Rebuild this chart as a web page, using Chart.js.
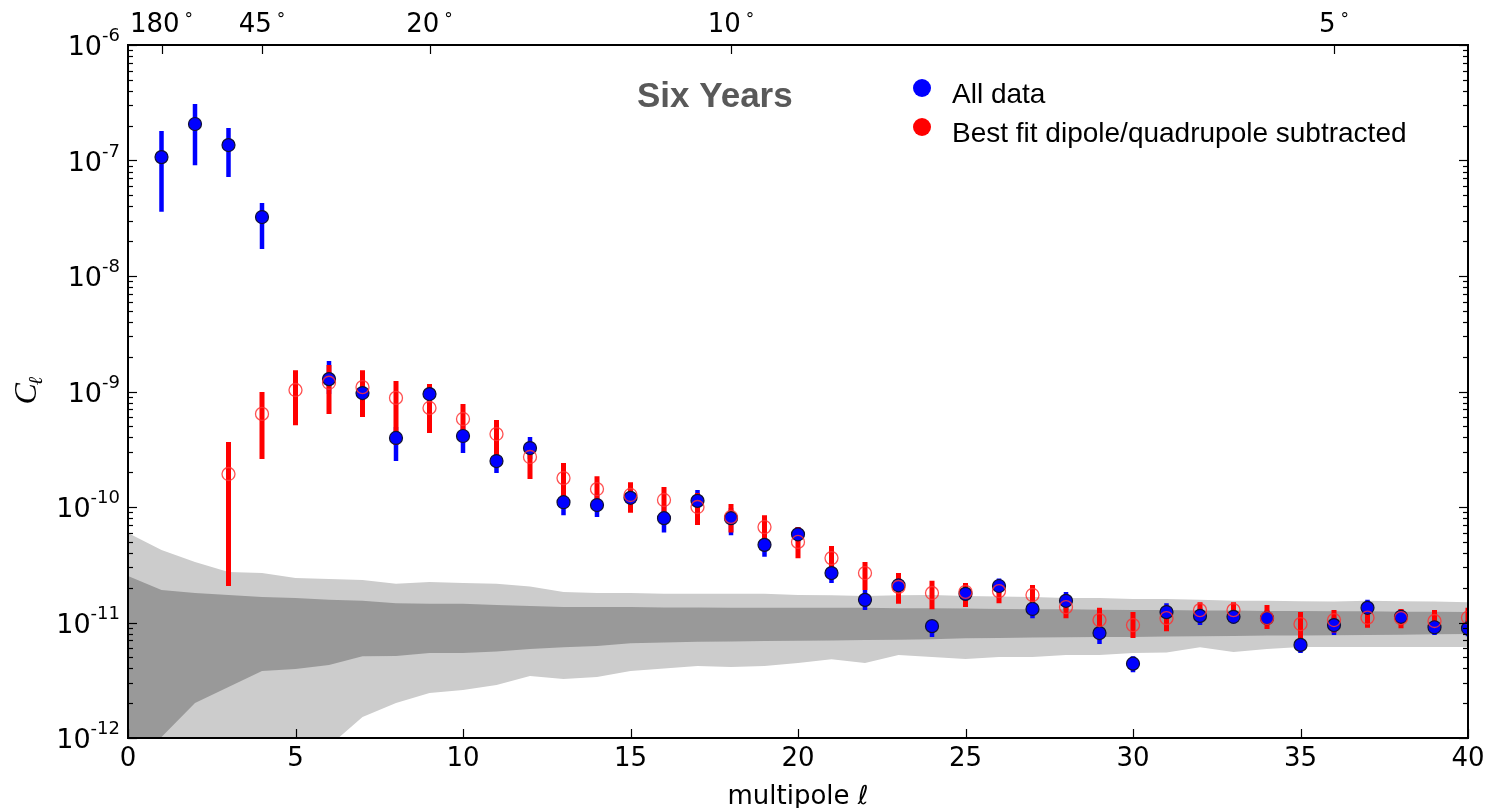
<!DOCTYPE html>
<html>
<head>
<meta charset="utf-8">
<title>Six Years</title>
<script src="https://cdn.jsdelivr.net/npm/chart.js@4.4.1/dist/chart.umd.min.js"></script>
<style>
  html, body { margin: 0; padding: 0; background: #fff; }
  #wrap { width: 1491px; height: 808px; position: relative; }
</style>
</head>
<body>
<div id="wrap"><canvas id="clChart"></canvas></div>
<script>
// simulated spread, one value per multipole 0..40
const bandEll = [0,1,2,3,4,5,6,7,8,9,10,11,12,13,14,15,16,17,18,19,20,
                 21,22,23,24,25,26,27,28,29,30,31,32,33,34,35,36,37,38,39,40];
const lightTop = [5.96e-11, 4.25e-11, 3.34e-11, 2.74e-11, 2.68e-11, 2.43e-11, 2.38e-11, 2.33e-11, 2.16e-11, 2.24e-11,
                  2.2e-11, 2.16e-11, 2.05e-11, 1.84e-11, 1.8e-11, 1.8e-11, 1.77e-11, 1.77e-11, 1.77e-11, 1.77e-11,
                  1.73e-11, 1.72e-11, 1.7e-11, 1.72e-11, 1.73e-11, 1.7e-11, 1.68e-11, 1.66e-11, 1.63e-11, 1.63e-11,
                  1.6e-11, 1.6e-11, 1.57e-11, 1.54e-11, 1.54e-11, 1.53e-11, 1.52e-11, 1.54e-11, 1.53e-11, 1.52e-11, 1.5e-11];
const lightBottom = [1e-13, 2e-13, 3e-13, 4e-13, 5e-13, 6e-13, 8.5e-13, 1.52e-12, 2.01e-12, 2.45e-12,
                     2.6e-12, 2.88e-12, 3.44e-12, 3.24e-12, 3.38e-12, 3.8e-12, 4.0e-12, 4.2e-12, 4.12e-12, 4.2e-12,
                     4.46e-12, 4.8e-12, 4.46e-12, 5.24e-12, 5.03e-12, 4.83e-12, 5.03e-12, 5.03e-12, 5.24e-12, 5.24e-12,
                     5.45e-12, 5.5e-12, 6.1e-12, 5.55e-12, 5.9e-12, 6.14e-12, 6.14e-12, 6.14e-12, 6.14e-12, 6.14e-12, 6.14e-12];
const darkTop = [2.53e-11, 1.91e-11, 1.8e-11, 1.73e-11, 1.66e-11, 1.63e-11, 1.57e-11, 1.54e-11, 1.47e-11, 1.45e-11,
                 1.45e-11, 1.42e-11, 1.39e-11, 1.36e-11, 1.36e-11, 1.36e-11, 1.35e-11, 1.35e-11, 1.34e-11, 1.34e-11,
                 1.34e-11, 1.34e-11, 1.34e-11, 1.33e-11, 1.33e-11, 1.32e-11, 1.31e-11, 1.3e-11, 1.3e-11, 1.29e-11,
                 1.28e-11, 1.28e-11, 1.27e-11, 1.27e-11, 1.26e-11, 1.26e-11, 1.25e-11, 1.25e-11, 1.24e-11, 1.24e-11, 1.23e-11];
const darkBottom = [5e-13, 1.02e-12, 2.01e-12, 2.77e-12, 3.8e-12, 3.96e-12, 4.28e-12, 5.1e-12, 5.13e-12, 5.45e-12,
                    5.45e-12, 5.6e-12, 5.9e-12, 6.1e-12, 6.26e-12, 6.6e-12, 6.7e-12, 6.8e-12, 6.85e-12, 6.9e-12,
                    6.95e-12, 7.0e-12, 7.05e-12, 7.1e-12, 7.15e-12, 7.3e-12, 7.35e-12, 7.4e-12, 7.45e-12, 7.5e-12,
                    7.5e-12, 7.55e-12, 7.6e-12, 7.64e-12, 7.7e-12, 7.7e-12, 7.75e-12, 7.8e-12, 7.85e-12, 7.9e-12, 7.95e-12];

// all data
const blueEll = [1,2,3,4,6,7,8,9,10,11,12,13,14,15,16,17,18,19,20,
                 21,22,23,24,25,26,27,28,29,30,31,32,33,34,35,36,37,38,39,40];
const blueCl = [1.07e-7, 2.07e-7, 1.36e-7, 3.24e-8, 1.28e-9, 9.7e-10, 3.96e-10, 9.5e-10, 4.12e-10, 2.5e-10,
                3.24e-10, 1.1e-10, 1.04e-10, 1.2e-10, 8.0e-11, 1.13e-10, 8.0e-11, 4.7e-11, 5.8e-11, 2.68e-11,
                1.57e-11, 2.1e-11, 9.3e-12, 1.77e-11, 2.07e-11, 1.31e-11, 1.54e-11, 8.1e-12, 4.4e-12, 1.23e-11,
                1.14e-11, 1.12e-11, 1.09e-11, 6.4e-12, 9.5e-12, 1.34e-11, 1.12e-11, 9.1e-12, 8.9e-12];
const blueLo = [3.6e-8, 9.1e-8, 7.2e-8, 1.71e-8, 9.5e-10, 7.6e-10, 2.5e-10, 7.6e-10, 2.94e-10, 1.97e-10,
                2.6e-10, 8.5e-11, 8.2e-11, 9.8e-11, 6.0e-11, 9.0e-11, 5.7e-11, 3.7e-11, 5.0e-11, 2.2e-11,
                1.28e-11, 1.75e-11, 7.5e-12, 1.45e-11, 1.77e-11, 1.09e-11, 1.28e-11, 6.5e-12, 3.7e-12, 1.06e-11,
                9.5e-12, 9.8e-12, 9.5e-12, 5.45e-12, 7.8e-12, 1.17e-11, 9.5e-12, 7.8e-12, 7.6e-12];
const blueHi = [1.8e-7, 3.08e-7, 1.91e-7, 4.29e-8, 1.84e-9, 1.2e-9, 4.93e-10, 1.16e-9, 5.1e-10, 3.0e-10,
                4.04e-10, 1.4e-10, 1.3e-10, 1.46e-10, 1.04e-10, 1.4e-10, 9.8e-11, 5.7e-11, 6.7e-11, 3.27e-11,
                1.91e-11, 2.68e-11, 1.01e-11, 2.1e-11, 2.4e-11, 1.57e-11, 1.84e-11, 9.6e-12, 5.1e-12, 1.47e-11,
                1.34e-11, 1.34e-11, 1.28e-11, 7.6e-12, 1.12e-11, 1.57e-11, 1.3e-11, 1.07e-11, 1.05e-11];

// best fit dipole/quadrupole subtracted
const redEll = [3,4,5,6,7,8,9,10,11,12,13,14,15,16,17,18,19,20,
                21,22,23,24,25,26,27,28,29,30,31,32,33,34,35,36,37,38,39,40];
const redCl = [1.93e-10, 6.4e-10, 1.03e-9, 1.19e-9, 1.09e-9, 8.8e-10, 7.2e-10, 5.78e-10, 4.28e-10, 2.71e-10,
               1.78e-10, 1.43e-10, 1.27e-10, 1.15e-10, 1.0e-10, 8.2e-11, 6.7e-11, 4.98e-11, 3.61e-11, 2.68e-11,
               2.03e-11, 1.8e-11, 1.84e-11, 1.87e-11, 1.73e-11, 1.36e-11, 1.05e-11, 9.5e-12, 1.09e-11, 1.28e-11,
               1.28e-11, 1.09e-11, 9.7e-12, 1.05e-11, 1.1e-11, 1.09e-11, 1.03e-11, 1.1e-11];
const redLo = [2.07e-11, 2.6e-10, 5.1e-10, 6.4e-10, 6.0e-10, 3.44e-10, 4.38e-10, 4.2e-10, 2.82e-10, 1.75e-10,
               1.2e-10, 1.05e-10, 8.9e-11, 8.0e-11, 7.0e-11, 6.0e-11, 4.7e-11, 3.6e-11, 2.85e-11, 1.91e-11,
               1.45e-11, 1.3e-11, 1.36e-11, 1.47e-11, 1.47e-11, 1.09e-11, 7.7e-12, 7.34e-12, 8.4e-12, 1.1e-11,
               1.05e-11, 8.8e-12, 6.9e-12, 8.2e-12, 9.0e-12, 8.9e-12, 8.5e-12, 9.0e-12];
const redHi = [3.65e-10, 9.9e-10, 1.53e-9, 1.7e-9, 1.53e-9, 1.23e-9, 1.16e-9, 7.8e-10, 5.66e-10, 3.6e-10,
               2.4e-10, 1.85e-10, 1.64e-10, 1.49e-10, 1.32e-10, 1.06e-10, 8.5e-11, 6.71e-11, 4.59e-11, 3.34e-11,
               2.68e-11, 2.3e-11, 2.2e-11, 2.2e-11, 2.11e-11, 1.73e-11, 1.34e-11, 1.23e-11, 1.4e-11, 1.5e-11,
               1.5e-11, 1.42e-11, 1.23e-11, 1.28e-11, 1.36e-11, 1.31e-11, 1.28e-11, 1.34e-11];

// axis ticks
const xTicks = [0, 5, 10, 15, 20, 25, 30, 35, 40];
const yExponents = [-6, -7, -8, -9, -10, -11, -12];
const topAngles = [180, 45, 20, 10, 5];   // degrees, placed at l = 180 / angle

const pts = (xs, ys) => xs.map((x, i) => ({ x: x, y: ys[i] }));

// vertical error segments, separated by gaps
function errorSegments(xs, lo, hi) {
    const out = [];
    xs.forEach((x, i) => {
        out.push({ x: x, y: lo[i] }, { x: x, y: hi[i] }, { x: x, y: null });
    });
    return out;
}

function bandLine(ys, color, fillTarget, order) {
    return {
        type: 'line',
        data: pts(bandEll, ys),
        borderWidth: 0,
        borderColor: color,
        pointRadius: 0,
        tension: 0,
        backgroundColor: color,
        fill: fillTarget,
        order: order
    };
}

// inward ticks, tick labels, titles and legend drawn with the chart's scales
const axisDecor = {
    id: 'axisDecor',
    afterDatasetsDraw(chart) {
        const { ctx, chartArea: a, scales: { x, y } } = chart;
        ctx.save();
        ctx.strokeStyle = '#000';
        ctx.fillStyle = '#000';

        const seg = (x1, y1, x2, y2) => {
            ctx.beginPath(); ctx.moveTo(x1, y1); ctx.lineTo(x2, y2); ctx.stroke();
        };

        // y ticks on both sides, with minor ticks at 2..9
        ctx.lineWidth = 1.2;
        const lowExp = Math.min(...yExponents), highExp = Math.max(...yExponents);
        for (let p = lowExp; p <= highExp; p++) {
            for (let m = 1; m < 10; m++) {
                if (p === highExp && m > 1) break;
                const py = Math.round(y.getPixelForValue(m * Math.pow(10, p))) + 0.5;
                const len = m === 1 ? 9 : 5;
                seg(a.left, py, a.left + len, py);
                seg(a.right, py, a.right - len, py);
            }
        }

        // bottom ticks
        xTicks.forEach(t => {
            const px = Math.round(x.getPixelForValue(t)) + 0.5;
            seg(px, a.bottom, px, a.bottom - 9);
        });

        // top angular scale
        topAngles.forEach(deg => {
            const px = Math.round(x.getPixelForValue(180 / deg)) + 0.5;
            seg(px, a.top, px, a.top + 9);
        });

        // frame
        ctx.lineWidth = 2;
        ctx.strokeRect(a.left, a.top, a.right - a.left, a.bottom - a.top);

        // y labels: 10 with a raised exponent
        yExponents.forEach(e => {
            const py = y.getPixelForValue(Math.pow(10, e));
            ctx.font = '18px "DejaVu Sans"';
            ctx.textAlign = 'right';
            ctx.textBaseline = 'alphabetic';
            const expText = String(e);
            const expW = ctx.measureText(expText).width;
            ctx.fillText(expText, a.left - 8, py - 4);
            ctx.font = '27px "DejaVu Sans"';
            ctx.fillText('10', a.left - 8 - expW, py + 10);
        });

        // x labels
        ctx.font = '26px "DejaVu Sans"';
        ctx.textAlign = 'center';
        xTicks.forEach(t => {
            ctx.fillText(String(t), x.getPixelForValue(t), a.bottom + 28);
        });

        // angular labels across the top
        topAngles.forEach(deg => {
            const px = x.getPixelForValue(180 / deg);
            ctx.font = '26px "DejaVu Sans"';
            const num = String(deg);
            const nw = ctx.measureText(num).width;
            ctx.font = '17px "DejaVu Sans"';
            const dw = ctx.measureText('\u00b0').width;
            const gap = 5;
            const start = px - (nw + gap + dw) / 2;
            ctx.textAlign = 'left';
            ctx.font = '26px "DejaVu Sans"';
            ctx.fillText(num, start, a.top - 13);
            ctx.font = '17px "DejaVu Sans"';
            ctx.fillText('\u00b0', start + nw + gap, a.top - 20);
        });

        // x title
        ctx.font = '26px "DejaVu Sans"';
        const xt = 'multipole ';
        ctx.font = 'oblique 26px "DejaVu Sans"';
        const lw = ctx.measureText('\u2113').width;
        ctx.font = '26px "DejaVu Sans"';
        const tw = ctx.measureText(xt).width;
        const cx = (a.left + a.right) / 2;
        ctx.textAlign = 'left';
        ctx.fillText(xt, cx - (tw + lw) / 2, a.bottom + 66);
        ctx.font = 'oblique 26px "DejaVu Sans"';
        ctx.fillText('\u2113', cx - (tw + lw) / 2 + tw, a.bottom + 66);

        // y title, rotated
        ctx.save();
        ctx.translate(a.left - 92, (a.top + a.bottom) / 2 + 2);
        ctx.rotate(-Math.PI / 2);
        ctx.textAlign = 'left';
        ctx.font = 'italic 32px "Liberation Serif"';
        ctx.fillText('C', -11, 0);
        const cw = ctx.measureText('C').width;
        ctx.font = 'italic 20px "DejaVu Serif"';
        ctx.fillText('\u2113', -11 + cw - 2, 6);
        ctx.restore();

        // title inside the plot
        ctx.font = 'bold 35px "Liberation Sans"';
        ctx.fillStyle = '#595959';
        ctx.textAlign = 'left';
        ctx.fillText('Six Years', a.left + 509, a.top + 62);

        // legend
        const entries = [chart.data.datasets[1], chart.data.datasets[0]];
        entries.forEach((ds, i) => {
            const ly = a.top + 43 + i * 39;
            ctx.beginPath();
            ctx.arc(a.left + 794, ly, 9, 0, Math.PI * 2);
            ctx.fillStyle = ds.legendColor;
            ctx.fill();
            ctx.fillStyle = '#000';
            ctx.font = '28px "Liberation Sans"';
            ctx.textAlign = 'left';
            ctx.fillText(ds.label, a.left + 824, ly + 15);
        });

        ctx.restore();
    }
};

const ctx = document.getElementById('clChart').getContext('2d');
const clChart = new Chart(ctx, {
    type: 'scatter',
    data: {
        datasets: [
            {
                label: 'Best fit dipole/quadrupole subtracted',
                legendColor: '#ff0000',
                data: pts(redEll, redCl),
                pointRadius: 6.5,
                pointBackgroundColor: 'rgba(0,0,0,0)',
                pointBorderColor: 'rgba(255,50,50,0.85)',
                pointBorderWidth: 1.3,
                showLine: false,
                order: 0
            },
            {
                label: 'All data',
                legendColor: '#0000ff',
                data: pts(blueEll, blueCl),
                pointRadius: 6.5,
                pointBackgroundColor: '#0000ff',
                pointBorderColor: '#111133',
                pointBorderWidth: 1.2,
                showLine: false,
                order: 1
            },
            {
                type: 'line',
                label: 'red errors',
                data: errorSegments(redEll, redLo, redHi),
                borderColor: '#ff0000',
                borderWidth: 5,
                borderCapStyle: 'butt',
                pointRadius: 0,
                spanGaps: false,
                fill: false,
                order: 2
            },
            {
                type: 'line',
                label: 'blue errors',
                data: errorSegments(blueEll, blueLo, blueHi),
                borderColor: '#0000ff',
                borderWidth: 4.5,
                borderCapStyle: 'butt',
                pointRadius: 0,
                spanGaps: false,
                fill: false,
                order: 3
            },
            bandLine(darkTop, '#999999', 5, 4),
            bandLine(darkBottom, '#999999', false, 5),
            bandLine(lightTop, '#cccccc', 7, 6),
            bandLine(lightBottom, '#cccccc', false, 7)
        ]
    },
    options: {
        responsive: true,
        maintainAspectRatio: false,
        animation: false,
        events: [],
        layout: {
            padding: { left: 128, right: 23, top: 45, bottom: 70 }
        },
        scales: {
            x: { type: 'linear', min: 0, max: 40, display: false },
            y: { type: 'logarithmic', min: 1e-12, max: 1e-6, display: false }
        },
        plugins: {
            legend: { display: false },
            tooltip: { enabled: false }
        }
    },
    plugins: [axisDecor]
});
</script>
</body>
</html>
